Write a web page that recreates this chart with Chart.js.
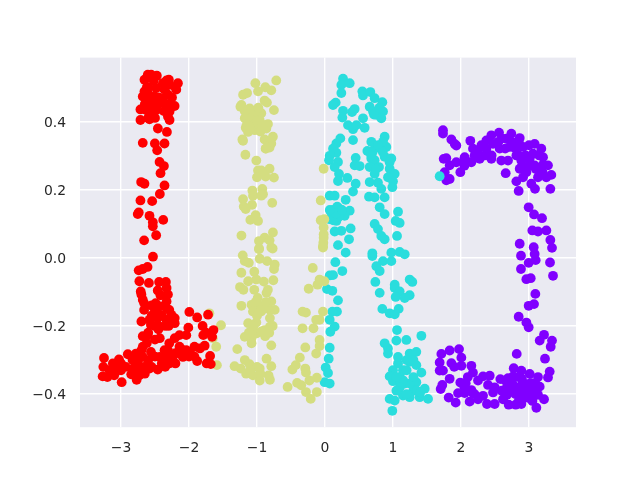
<!DOCTYPE html>
<html><head><meta charset="utf-8">
<style>html,body{margin:0;padding:0;background:#fff}</style>
<script src="https://cdn.jsdelivr.net/npm/chart.js@4"></script></head>
<body><canvas id="c" width="640" height="480"></canvas>
<script>
const xTicks=[-3,-2,-1,0,1,2,3];
const yTicks=[-0.4,-0.2,0,0.2,0.4];
const redPoints=[[-2.606,.537],[-2.655,.522],[-2.473,.534],[-2.557,.537],[-2.296,.522],[-2.163,.512],[-2.187,.493],[-2.286,.507],[-2.384,.512],[-2.655,.488],[-2.606,.483],[-2.507,.473],[-2.483,.498],[-2.36,.493],[-2.31,.478],[-2.409,.468],[-2.68,.473],[-2.631,.453],[-2.557,.458],[-2.36,.453],[-2.631,.433],[-2.714,.435],[-2.483,.433],[-2.557,.424],[-2.212,.445],[-2.286,.429],[-2.31,.414],[-2.714,.404],[-2.581,.406],[-2.286,.404],[-2.458,.379],[-2.325,.369],[-2.68,.337],[-2.502,.335],[-2.36,.335],[-2.468,.315],[-2.433,.281],[-2.369,.269],[-2.419,.248],[-2.704,.222],[-2.655,.217],[-2.36,.212],[-2.429,.187],[-2.714,.168],[-2.542,.166],[-2.739,.133],[-2.754,.128],[-2.581,.123],[-2.532,.104],[-2.379,.111],[-2.532,.092],[-2.483,.066],[-2.66,.051],
[-2.6,.5],[-2.52,.52],[-2.57,.47],[-2.45,.47],[-2.54,.44],[-2.46,.45],[-2.6,.41],[-2.5,.41],[-2.25,.47],[-2.33,.52],[-2.3,.45],[-2.2,.5],[-2.65,.45],[-2.62,.5],[-2.37,.43],
[-2.53,.003],[-2.61,-.027],[-2.68,-.033],[-2.74,-.037],[-2.73,-.069],[-2.59,-.074],[-2.44,-.071],[-2.34,-.071],[-2.46,-.096],[-2.33,-.089],[-2.71,-.099],[-2.7,-.108],[-2.31,-.108],[-2.68,-.123],[-2.66,-.133],[-2.33,-.128],[-2.49,-.133],[-2.51,-.148],[-2.33,-.148],[-2.43,-.143],[-2.66,-.153],[-2.29,-.153],[-2.48,-.163],[-2.26,-.167],[-2.21,-.177],[-2.21,-.192],[-1.995,-.159],[-1.88,-.175],[-1.72,-.167],[-2.7,-.187],[-2.58,-.182],[-2.46,-.177],[-2.33,-.182],[-2.56,-.197],[-2.43,-.202],[-2.01,-.205],[-1.8,-.2],[-1.64,-.212],[-1.79,-.227],[-1.66,-.232],[-2.68,-.23],[-2.61,-.227],[-2.43,-.236],[-2.14,-.227],[-2.04,-.227],[-2.21,-.236],[-2.29,-.251],[-2.68,-.261],[-2.56,-.276],[-2.31,-.271],[-2.14,-.261],[-1.92,-.261],[-1.77,-.258],[-1.84,-.266],[-2.7,-.271],[-2.78,-.281],[-2.9,-.283],[-3.03,-.298],[-3.25,-.294],[-3.26,-.32],[-3.12,-.31],[-3,-.31],[-2.83,-.3],[-2.68,-.291],[-2.43,-.291],[-2.29,-.286],[-2.09,-.291],[-1.99,-.276],[-2.24,-.291],[-2.38,-.296],[-1.69,-.288],[-1.88,-.303],[-1.74,-.31],[-1.68,-.312],[-2.83,-.335],[-2.73,-.345],[-2.58,-.325],[-2.46,-.328],[-2.29,-.31],[-3.27,-.348],[-3.1,-.345],[-2.99,-.365],[-2.77,-.358],[-2.85,-.342],[-2.66,-.32],[-3.17,-.33],[-2.93,-.32],[-2.75,-.315],[-2.14,-.281],[-2.04,-.271],[-2.36,-.271],
[-2.55,-.17],[-2.5,-.2],[-2.45,-.21],[-2.4,-.17],[-2.55,-.14],[-2.42,-.11],[-2.6,-.22],[-2.5,-.24],[-2.35,-.2],[-2.3,-.2],[-2.62,-.25],[-2.75,-.3],[-2.6,-.3],[-2.5,-.29],[-2.35,-.32],[-2.3,-.3],[-2.2,-.31],[-2.1,-.27],[-2,-.29],[-2.8,-.32],[-2.65,-.34],[-3,-.33],[-3.2,-.35],[-3.05,-.33],[-1.92,-.29],[-2.55,-.32],[-2.72,-.33],[-2.4,-.31],[-1.75,-.22],[-2.2,-.28]];
const cyanPoints=[[.265,.525],[.24,.507],[.363,.512],[.24,.483],[.157,.455],[.118,.448],[.265,.431],[.255,.411],[.436,.436],[.397,.427],[.549,.488],[.559,.476],[.667,.486],[.73,.468],[.843,.456],[.657,.443],[.706,.429],[.755,.419],[.853,.429],[.828,.409],[.559,.409],[.583,.381],[.338,.389],[.412,.377],[.461,.389],[.412,.345],[.225,.35],[.167,.335],[.118,.32],[.167,.308],[.877,.355],[.902,.325],[.681,.34],[.73,.32],[.623,.313],[.853,.34],[.069,.299],[.059,.286],[.191,.281],[.142,.266],[.206,.246],[.191,.225],[.328,.234],[.451,.293],[.436,.271],[.51,.269],[.681,.291],[.73,.286],[.877,.296],[.975,.291],[.657,.266],[.794,.266],[.73,.246],[.951,.261],[1.025,.246],[.926,.236],[1,.224],[.99,.207],[.657,.222],[.779,.22],[.828,.202],[.451,.217],[.412,.194],[.069,.182],[.142,.182],[.304,.17],[.647,.179],[.73,.177],[.877,.177],[.804,.148],[.877,.128],[1.074,.135],[.73,.099],[.779,.084],[.828,.064],[.877,.054],[1.039,.108],[1.098,.102],[1.059,.064],[.167,.108],[.118,.128],[.216,.143],[.289,.123],[.363,.138],[.24,.079],[.142,.077],[.377,.086],[.353,.054],[.191,.037],[.304,.015],[.696,.005],[.069,.113],[.216,.123],[.093,.133],
[.12,.14],[.18,.15],[.2,.12],[.12,.11],[.16,.13],[.07,.14],[.25,.14],[.7,.31],[.78,.33],[.85,.31],[.75,.26],[.95,.28],[.68,.3],[.72,.42],[.8,.44],
[.152,-.013],[.255,-.039],[.069,-.052],[.118,-.051],[.029,-.092],[.108,-.097],[.191,-.125],[.176,-.158],[.108,-.158],[.069,-.182],[.142,-.202],[.078,-.217],[.069,-.264],[.054,-.296],[.01,-.322],[.044,-.338],[-.005,-.365],[.069,-.369],[.696,.013],[.853,-.01],[.804,-.039],[.755,-.025],[.975,-.01],[.975,.015],[1.098,.017],[1.172,.01],[.74,-.071],[.804,-.103],[1.025,-.079],[1.025,-.089],[1.098,-.099],[1.245,-.064],[1.284,-.071],[1.245,-.11],[1.172,-.118],[1.039,-.115],[.843,-.15],[.951,-.163],[1.025,-.166],[1.083,-.15],[1.059,-.212],[1.049,-.243],[1.196,-.241],[1.417,-.229],[.877,-.251],[.926,-.266],[.926,-.281],[1.074,-.291],[1.245,-.281],[1.343,-.276],[1.074,-.31],[1.245,-.305],[1.343,-.315],[1,-.33],[1.147,-.33],[.951,-.348],[1,-.362],[1.098,-.36],[1.172,-.369],[1.417,-.337],[1.343,-.365],[1.245,-.369],[1.466,-.384],[1.147,-.404],[1.245,-.409],[1.392,-.409],[1.515,-.414],[.951,-.414],[1.025,-.419],[.99,-.449],
[1.1,-.35],[1.2,-.33],[1.3,-.35],[1.15,-.36],[1.05,-.35],[1.3,-.39],[1.2,-.4],[1.35,-.39],[1.1,-.38],[1.2,-.3],[1.3,-.3],[1.4,-.395],[1.05,-.39],[1.686,.239]];
const yellowPoints=[[-.717,.52],[-1.024,.512],[-.878,.5],[-.985,.488],[-.79,.491],[-1.146,.483],[-1.205,.478],[-.888,.461],[-.854,.455],[-1.229,.448],[-1.244,.443],[-.751,.433],[-1.107,.438],[-.937,.424],[-1.059,.424],[-1.18,.409],[-1.01,.414],[-1.107,.409],[-.961,.404],[-1.034,.394],[-.839,.392],[-1.166,.381],[-1.034,.374],[-.863,.379],[-1.132,.369],[-.766,.355],[-.888,.347],[-1.215,.347],[-1.205,.343],[-.79,.335],[-.873,.32],[-.815,.323],[-1.171,.302],[-1.01,.285],[-.815,.261],[-.985,.256],[-.937,.256],[-1,.236],[-.873,.238],[-.751,.235],[-1.068,.197],[-.922,.202],[-.912,.186],[-1.059,.182],[-1.205,.172],[-.937,.182],[-.776,.161],[-1.073,.155],[-1.195,.15],[-1.166,.143],[-1.02,.125],[-1.098,.111],[-.985,.108],[-.766,.074],[-1.229,.065],[-.888,.059],[-.971,.049],[-.815,.051],[-.971,.025],[-.79,.03],
[-1,.4],[-1.08,.43],[-.98,.44],[-1.15,.39],[-.92,.39],[-1.1,.38],[-.95,.37],[-1.18,.43],[-.87,.32],
[-.02,.261],[-.063,.168],[-.063,.11],[-.01,.113],[-.02,.089],[-.02,.069],[-.02,.059],[-.025,.044],[-.03,.03],
[-.97,.027],[-.77,.027],[-.96,-.003],[-.85,-.01],[-1.21,.007],[-1.18,-.01],[-1.12,-.015],[-.74,-.02],[-.75,-.033],[-1.23,-.044],[-1.04,-.041],[-.76,-.066],[-1.01,-.064],[-1.13,-.069],[-1.25,-.086],[-1.2,-.094],[-1.04,-.094],[-.84,-.094],[-.86,-.103],[-.99,-.118],[-.79,-.128],[-1.23,-.141],[-1.08,-.138],[-.96,-.143],[-1.06,-.158],[-.94,-.158],[-.81,-.153],[-.74,-.153],[-.81,-.177],[-.77,-.2],[-1.13,-.192],[-1.01,-.19],[-.89,-.212],[-1.01,-.222],[-1.18,-.232],[-1.08,-.236],[-.94,-.217],[-.81,-.202],[-1.08,-.251],[-.79,-.257],[-1.29,-.268],[-.86,-.296],[-.79,-.318],[-1.18,-.3],[-1.11,-.312],[-1.33,-.318],[-1.24,-.325],[-1.16,-.34],[-1.06,-.345],[-.96,-.325],[-.96,-.36],[-.83,-.345],[-.81,-.358],
[-.9,-.15],[-1,-.17],[-.88,-.23],[-1.05,-.2],[-1.12,-.22],[-1,-.32],[-1.1,-.33],[-.95,-.34],[-.87,-.13],[-.9,-.07],[-1.02,-.13],[-.82,-.22],
[-.03,.034],[-.18,-.03],[-.08,-.064],[-.01,-.069],[-.24,-.091],[-.11,-.079],[-.03,-.158],[-.33,-.158],[-.28,-.161],[-.13,-.182],[-.08,-.182],[-.33,-.207],[-.17,-.207],[-.29,-.263],[-.08,-.241],[-.13,-.281],[-.08,-.259],[-.37,-.293],[-.43,-.315],[-.48,-.328],[-.29,-.325],[-.28,-.337],[-.23,-.36],[-.12,-.352],[-.55,-.379],[-.41,-.367],[-.35,-.374],[-.28,-.394],[-.21,-.414],[-.12,-.394],
[-1.53,-.198],[-1.6,-.261],[-1.59,-.315],[-1.65,-.236],[-1.7,-.163]];
const purplePoints=[[1.735,.374],[1.735,.364],[1.858,.347],[1.907,.334],[1.931,.329],[2.137,.343],[1.745,.29],[1.784,.292],[1.833,.271],[1.76,.251],[1.784,.227],[1.833,.231],[1.99,.251],[1.931,.28],[2.054,.295],[2.152,.28],[2.176,.32],[2.25,.315],[2.275,.29],[2.373,.344],[2.446,.359],[2.559,.367],[2.373,.32],[2.471,.334],[2.569,.32],[2.446,.29],[2.593,.285],[2.691,.285],[2.74,.364],[2.863,.351],[2.667,.349],[2.716,.325],[2.657,.248],[2.912,.325],[3.083,.334],[3.181,.32],[3.059,.305],[2.814,.3],[2.887,.285],[3.01,.29],[3.206,.295],[3.206,.273],[3.279,.271],[3.083,.271],[2.863,.261],[2.961,.251],[2.912,.236],[3.132,.236],[3.328,.243],[3.255,.236],[2.814,.224],[3.034,.217],[3.088,.202],[2.848,.196],[3.314,.202],[2.995,.148],[3.074,.127],[3.191,.116],[3.049,.08],[3.132,.077],[3.255,.08],[3.314,.052],[3.338,.029],[2.863,.041],[3.069,.031],[3.083,.011],[3.098,-.007],[2.995,-.015],[2.882,.006],[3.309,-.014],[2.882,-.033],[3.353,-.053],[3.025,-.06],[2.961,-.063],
[2.3,.33],[2.45,.3],[2.55,.34],[2.65,.32],[2.8,.32],[2.85,.3],[2.95,.3],[3,.27],[3.15,.3],[3.1,.26],[3.2,.25],[2.9,.27],[2.05,.27],[2.2,.3],[2.35,.3],[2.6,.35],[2.75,.34],[2.85,.34],[3,.33],[2.05,.29],
[3.093,-.106],[3.074,-.136],[2.995,-.141],[2.848,-.173],[2.961,-.19],[2.995,-.204],[3.221,-.226],[3.157,-.243],[3.338,-.243],[3.319,-.261],[2.819,-.282],[3.235,-.296],[3.304,-.334],[3.279,-.351],[1.711,-.282],[1.833,-.272],[1.971,-.268],[1.686,-.307],[1.858,-.309],[2.005,-.293],[2.005,-.317],[1.686,-.331],[1.735,-.331],[2.152,-.317],[2.176,-.337],[1.833,-.355],[1.725,-.373],[1.701,-.385],[1.99,-.366],[2.069,-.368],[2.152,-.388],[2.324,-.348],[2.422,-.346],[2.397,-.373],[2.495,-.38],[2.471,-.395],[2.578,-.356],[2.691,-.353],[2.775,-.324],[2.887,-.331],[3.01,-.341],[3.132,-.35],[2.765,-.348],[2.887,-.353],[2.765,-.373],[2.912,-.373],[3.034,-.368],[3.157,-.378],[2.667,-.383],[2.814,-.392],[3.01,-.392],[3.132,-.402],[3.221,-.415],[3.108,-.44],[2.676,-.402],[2.863,-.407],[2.985,-.402],[1.819,-.41],[1.922,-.425],[1.956,-.397],[2.127,-.422],[2.25,-.415],[2.324,-.405],[2.382,-.429],[2.495,-.429],[2.618,-.415],[2.701,-.431],[2.804,-.431],[2.887,-.429],[2.054,-.397],[2.176,-.397],[3.01,-.412],
[2.8,-.35],[2.9,-.36],[3,-.37],[3.1,-.37],[2.85,-.38],[2.95,-.38],[3.05,-.39],[2.75,-.39],[2.8,-.4],[2.9,-.4],[2.7,-.37],[3.1,-.4],[2.6,-.39],[2.65,-.36],[2.95,-.41],[3.05,-.42],[2.85,-.42],[2.1,-.35],[2.25,-.36],[1.9,-.32],[2.05,-.38],[2.2,-.4]];
const seriesPoints=[redPoints,yellowPoints,cyanPoints,purplePoints];
const seriesColors=['#ff0000','#d4dd80','#2adddd','#8000ff'];
const fmt=v=>{const s=Math.abs(v)<1e-9?'0.0':Math.abs(v).toFixed(1);return ['',(v<-1e-9?'\u2212':'')+s];};
const fmtInt=v=>(v<0?'\u2212':'')+Math.abs(v);
const bgPlugin={id:'bg',beforeDraw(ch){const a=ch.chartArea,c=ch.ctx;c.save();c.fillStyle='#eaeaf2';c.fillRect(a.left,a.top,a.right-a.left,a.bottom-a.top);c.restore();}};
new Chart(document.getElementById('c'),{
  type:'scatter',
  data:{datasets:seriesPoints.map((p,i)=>({data:p.map(d=>({x:d[0],y:d[1]})),backgroundColor:seriesColors[i],borderWidth:0,pointRadius:4.9,pointHoverRadius:4.9}))},
  plugins:[bgPlugin],
  options:{
    responsive:false,animation:false,devicePixelRatio:1,
    layout:{padding:{top:57.6,right:64,left:0,bottom:0}},
    plugins:{legend:{display:false},title:{display:false},tooltip:{enabled:false}},
    scales:{
      x:{type:'linear',min:-3.603,max:3.691,
        afterBuildTicks:a=>{a.ticks=xTicks.map(v=>({value:v}));},
        afterFit:a=>{a.height=52.8;},
        grid:{color:'#ffffff',lineWidth:1.39,drawTicks:false,tickLength:0},border:{display:false},
        ticks:{autoSkip:false,maxRotation:0,padding:13,color:'#262626',font:{family:'DejaVu Sans',size:13.9},callback:v=>fmtInt(v)}},
      y:{type:'linear',min:-0.497,max:0.587,
        afterBuildTicks:a=>{a.ticks=yTicks.map(v=>({value:v}));},
        afterFit:a=>{a.width=80;},
        grid:{color:'#ffffff',lineWidth:1.39,drawTicks:false,tickLength:0},border:{display:false},
        ticks:{autoSkip:false,padding:14,color:'#262626',font:{family:'DejaVu Sans',size:13.9,lineHeight:0.25},callback:v=>fmt(v)}}
    }
  }
});
</script></body></html>
